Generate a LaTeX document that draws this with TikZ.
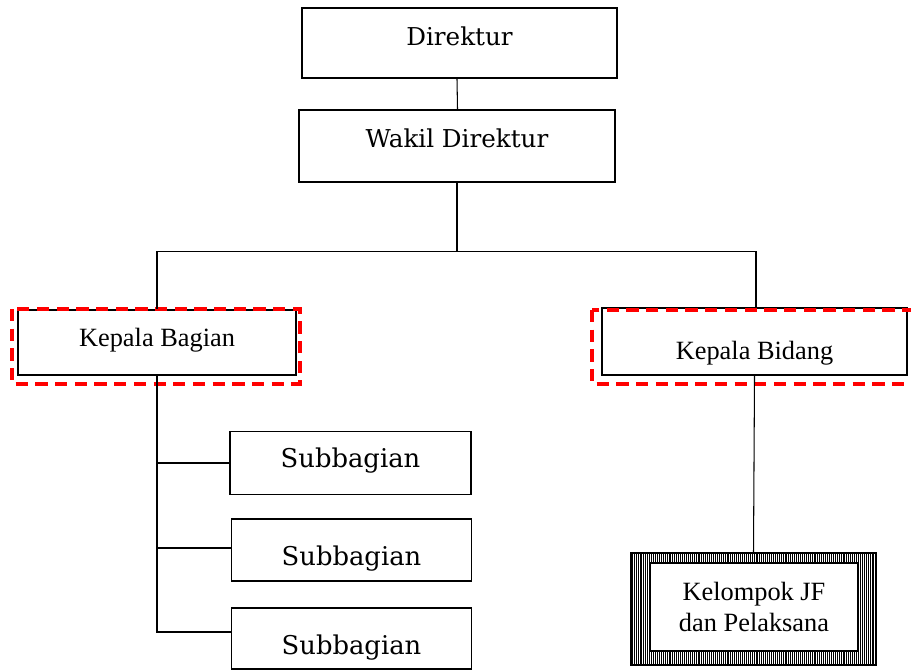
\documentclass[tikz,border=0pt]{standalone}
\usepackage{fontspec}
\setmainfont{Liberation Serif}
\newfontfamily\bookfont{DejaVu Serif}
\usetikzlibrary{positioning, calc, patterns.meta}
\definecolor{orgred}{HTML}{FF0000}

\begin{document}
\begin{tikzpicture}[
  post/.style={rectangle, draw=black, fill=white, minimum width=#1, inner sep=2pt, align=center},
  bigpost/.style={post=#1, line width=1.3pt, font=\bookfont\fontsize{14}{17}\selectfont},
  subpost/.style={post=4.8cm, line width=0.6pt, minimum height=1.26cm, font=\bookfont\fontsize{14.7}{17}\selectfont},
  headpost/.style={post=#1, font=\fontsize{15}{18}\selectfont},
  dashfrm/.style={draw=orgred, line width=2.3pt, dash pattern=on 7pt off 4.2pt},
  wire/.style={draw=black, line width=0.6pt},
]
  \useasboundingbox (0,0) rectangle (18.22,-13.4);

  % top
  \node[bigpost=6.3cm, minimum height=1.4cm, text height=10.6pt, text depth=7.2pt] (dir) at (9.19,-0.86) {Direktur};
  \node[bigpost=6.32cm, minimum height=1.44cm, text height=10.6pt, text depth=9.4pt] (wadir) at (9.14,-2.92) {Wakil Direktur};

  % kepala
  \node[headpost=5.56cm, minimum height=1.3cm, line width=0.6pt, text height=10.4pt, text depth=5.4pt] (kbag) at (3.14,-6.85) {Kepala Bagian};
  \node[headpost=6.1cm, minimum height=1.34cm, line width=1.1pt, text height=24pt, text depth=3.3pt] (kbid) at (15.09,-6.83) {Kepala Bidang};
  \draw[dashfrm] (0.24,-6.18) rectangle (6.0,-7.68);
  \draw[dashfrm] (11.84,-6.2) rectangle (18.7,-7.68);

  % subbagian
  \node[subpost, minimum width=4.82cm, text height=8pt, text depth=3.3pt] (sub1) at (7.01,-9.26) {Subbagian};
  \node[subpost, minimum height=1.24cm, text height=21.5pt, text depth=3.3pt] (sub2) at (7.03,-11.0) {Subbagian};
  \node[subpost, minimum height=1.22cm, text height=21pt, text depth=3.3pt] (sub3) at (7.03,-12.77) {Subbagian};

  % kelompok JF
  \node[rectangle, draw=black, line width=1.6pt, minimum width=4.9cm, minimum height=2.24cm,
    pattern={Lines[angle=90, distance=1.1pt, line width=0.35pt]}] (jfout) at (15.07,-12.18) {};
  \node[headpost=4.16cm, minimum height=1.76cm, line width=0.7pt] (jf) at (15.08,-12.14) {Kelompok JF\\dan Pelaksana};

  % connectors
  \draw[wire] ($(dir.south)+(-0.05,0)$) -- ($(wadir.north)+(0.01,0)$);
  \draw[wire] (wadir.south) -- ++(0,-1.36) coordinate (split);
  \draw[wire] (split) -| (kbag.north);
  \draw[wire] (split) -| ($(kbid.north)+(0.03,0)$);
  \draw[wire] (kbag.south) |- (sub1.west);
  \draw[wire] (kbag.south) |- ($(sub2.west)+(0,0.04)$);
  \draw[wire] (kbag.south) |- ($(sub3.west)+(0,0.13)$);
  \draw[wire] (kbid.south) -- (jfout.north);
\end{tikzpicture}
\end{document}
